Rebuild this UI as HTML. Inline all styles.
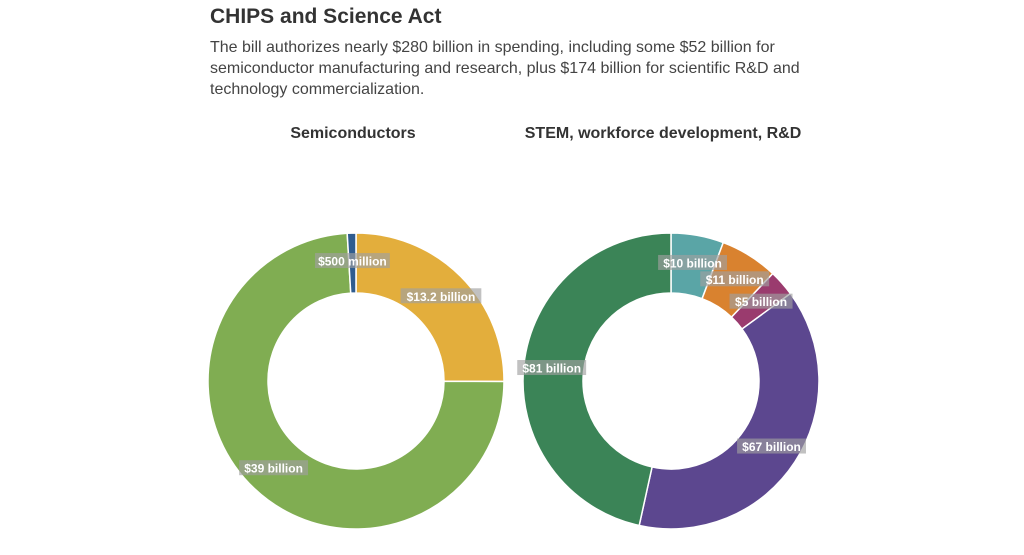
<!DOCTYPE html>
<html><head><meta charset="utf-8"><style>
body{margin:0;width:1024px;height:555px;background:#fff;overflow:hidden;font-family:"Liberation Sans Narrow","Liberation Sans",sans-serif;color:#333}
#t{position:absolute;left:210px;top:5px;font-size:21px;font-weight:bold;color:#333}
#d{position:absolute;left:210px;top:37px;font-size:16px;line-height:21px;color:#444;width:620px}
svg{position:absolute;left:0;top:0}
</style></head><body>
<div id="t">CHIPS and Science Act</div>
<div id="d">The bill authorizes nearly $280 billion in spending, including some $52 billion for semiconductor manufacturing and research, plus $174 billion for scientific R&amp;D and technology commercialization.</div>
<svg id="s" width="1024" height="555">
<text x="353" y="138" text-anchor="middle" font-size="16" font-weight="bold" fill="#333">Semiconductors</text>
<text x="663" y="138" text-anchor="middle" font-size="16" font-weight="bold" fill="#333">STEM, workforce development, R&amp;D</text>
</svg>
<script>
const semiLabels=["$13.2 billion","$39 billion","$500 million"];
const semiValues=[13.2,39,0.5];
const semiColors=["#e3ae3c","#80ad52","#2f5c8f"];
const stemLabels=["$10 billion","$11 billion","$5 billion","$67 billion","$81 billion"];
const stemValues=[10,11,5,67,81];
const stemColors=["#5aa5a6","#d9822f","#9a3b6e","#5c478f","#3b8457"];
const NS="http://www.w3.org/2000/svg";
const svg=document.getElementById('s');
function pt(cx,cy,r,a){return [cx+r*Math.sin(a),cy-r*Math.cos(a)];}
function donut(cx,cy,R,r,vals,cols,labs,name){
  const tot=vals.reduce((a,b)=>a+b,0);let a0=0;
  const lg=[];
  vals.forEach((v,i)=>{
    const a1=a0+v/tot*2*Math.PI;const big=(a1-a0)>Math.PI?1:0;
    const p1=pt(cx,cy,R,a0),p2=pt(cx,cy,R,a1),p3=pt(cx,cy,r,a1),p4=pt(cx,cy,r,a0);
    const p=document.createElementNS(NS,'path');
    p.setAttribute('d',`M${p1}A${R},${R} 0 ${big} 1 ${p2}L${p3}A${r},${r} 0 ${big} 0 ${p4}Z`);
    p.setAttribute('fill',cols[i]);p.setAttribute('stroke','#fff');p.setAttribute('stroke-width','1.5');
    
    
    svg.appendChild(p);
    lg.push([(a0+a1)/2,labs[i]]);a0=a1;
  });
  lg.forEach(([am,l],i)=>{
    const [x,y]=pt(cx,cy,120,am);
    const g=document.createElementNS(NS,'g');
    
    
    const w=l.length*5.9+4;
    const rc=document.createElementNS(NS,'rect');
    rc.setAttribute('x',x-w/2);rc.setAttribute('y',y-8);rc.setAttribute('width',w);rc.setAttribute('height',15);
    rc.setAttribute('fill','rgba(160,160,160,0.65)');
    const t=document.createElementNS(NS,'text');
    t.setAttribute('x',x);t.setAttribute('y',y+4.5);t.setAttribute('text-anchor','middle');
    t.setAttribute('font-size','12');t.setAttribute('font-weight','bold');t.setAttribute('fill','#fff');
    t.textContent=l;g.appendChild(rc);g.appendChild(t);svg.appendChild(g);
  });
}
donut(356,381,148,88,semiValues,semiColors,semiLabels,'semiconductors');
donut(671,381,148,88,stemValues,stemColors,stemLabels,'stem');
</script>
</body></html>
